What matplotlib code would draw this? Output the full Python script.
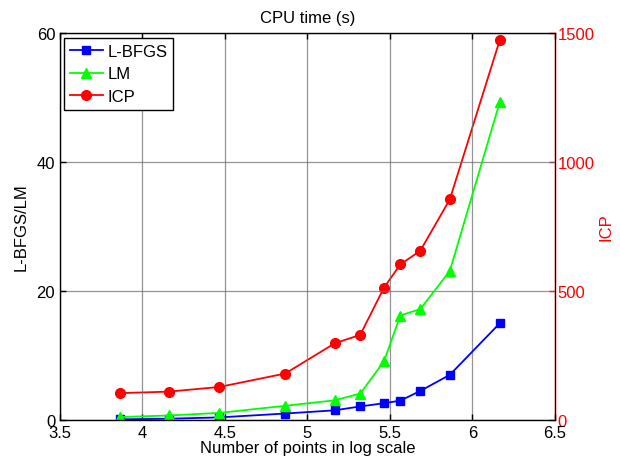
import matplotlib
matplotlib.use("Agg")
import matplotlib.pyplot as plt

plt.rcParams['font.family'] = ['Liberation Sans', 'DejaVu Sans']

x = [3.862, 4.161, 4.465, 4.865, 5.165, 5.320, 5.464, 5.563, 5.684, 5.863, 6.166]
lbfgs = [0.1, 0.2, 0.4, 1.0, 1.5, 2.1, 2.6, 3.0, 4.5, 7.0, 15.0]
lm = [0.45, 0.7, 1.1, 2.2, 3.05, 4.1, 9.1, 16.2, 17.2, 23.1, 49.3]
icp = [104, 110, 128, 180, 297, 330, 513, 603, 656, 855, 1473]

fs = 12
fig = plt.figure(figsize=(6.2, 4.64), dpi=100)
ax = fig.add_axes([0.0968, 0.0927, 0.7982, 0.834])
ax2 = ax.twinx()

l1, = ax.plot(x, lbfgs, '-s', color='#0000ff', lw=1.3, ms=5.5, label='L-BFGS')
l2, = ax.plot(x, lm, '-^', color='#00ff00', lw=1.3, ms=7, label='LM')
l3, = ax2.plot(x, icp, '-o', color='#ff0000', lw=1.3, ms=7, label='ICP')

ax.set_xlim(3.5, 6.5)
ax.set_ylim(0, 60)
ax2.set_ylim(0, 1500)
ax.set_xticks([3.5, 4, 4.5, 5, 5.5, 6, 6.5])
ax.set_xticklabels(['3.5', '4', '4.5', '5', '5.5', '6', '6.5'])
ax.set_yticks([0, 20, 40, 60])
ax2.set_yticks([0, 500, 1000, 1500])

ax.grid(True, color='#707070', lw=0.9, alpha=0.75)
ax.set_axisbelow(True)

ax.tick_params(axis='both', direction='in', top=True, right=False, labelsize=fs, length=4, width=1, colors='black')
ax2.tick_params(axis='y', direction='in', colors='#ff0000', labelsize=fs, length=4, width=1, pad=2)
for s in ['left', 'bottom', 'top']:
    ax.spines[s].set_linewidth(1.0)
ax2.spines['right'].set_color('#ff0000')
ax2.spines['right'].set_linewidth(1.0)
ax2.spines['left'].set_visible(False)
ax2.spines['top'].set_visible(False)
ax2.spines['bottom'].set_visible(False)

ax.set_xlabel('Number of points in log scale', fontsize=fs, labelpad=0)
ax.set_ylabel('L-BFGS/LM', fontsize=fs, labelpad=6)
ax2.set_ylabel('ICP', fontsize=fs, color='#ff0000', labelpad=3)
ax.set_title('CPU time (s)', fontsize=fs, pad=8)

leg = ax.legend(handles=[l1, l2, l3], loc='upper left', fontsize=fs, frameon=True,
                fancybox=False, edgecolor='black', framealpha=1, borderpad=0.35,
                labelspacing=0.45, handlelength=2.0, handletextpad=0.25,
                borderaxespad=0, bbox_to_anchor=(0.008, 0.987))
leg.get_frame().set_linewidth(1.0)
leg.set_zorder(10)
ax.set_zorder(ax2.get_zorder() + 1)
ax.patch.set_visible(False)

fig.savefig('out.png', dpi=100)
